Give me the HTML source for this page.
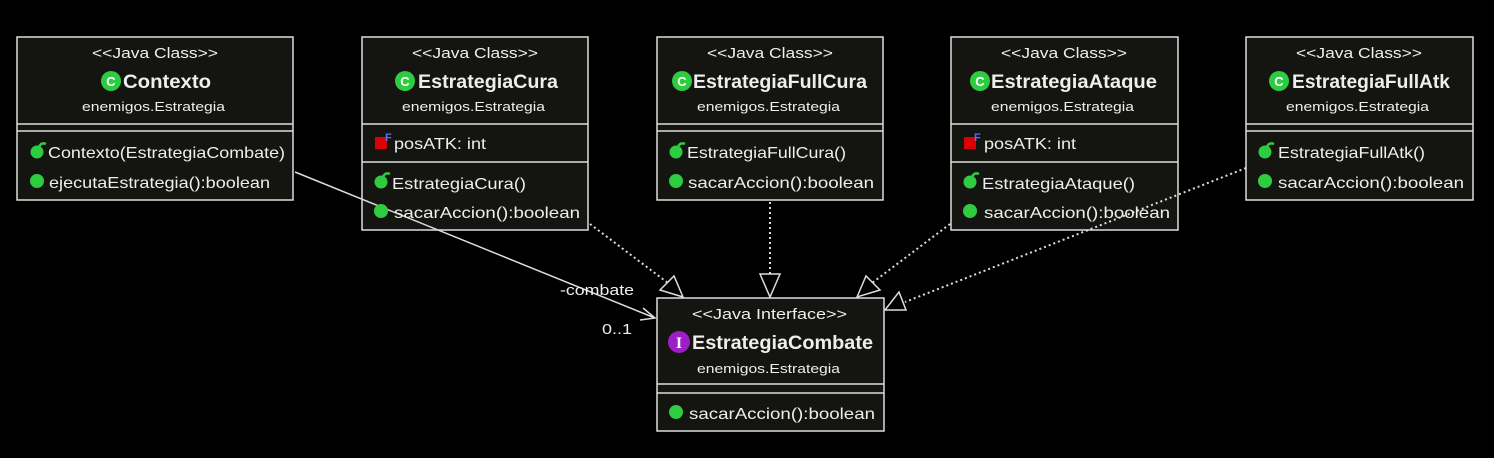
<!DOCTYPE html>
<html><head><meta charset="utf-8"><style>
body{margin:0;background:#000;width:1494px;height:453px;overflow:hidden;font-family:"Liberation Sans",sans-serif;}
</style></head><body>
<svg width="1494" height="453" xmlns="http://www.w3.org/2000/svg" font-family="Liberation Sans, sans-serif">
<defs>
<g id="ctor"><circle cx="0" cy="0" r="6.5" fill="#2ecc40"/><path d="M2,-5 Q4,-10 9,-8" stroke="#2ecc40" stroke-width="2.5" fill="none"/></g>
<g id="meth"><circle cx="0" cy="0" r="7" fill="#2ecc40"/></g>
<g id="fld"><rect x="-6" y="-6" width="12" height="12" fill="#d00"/><text x="4" y="-2" fill="#5b6cff" font-size="11" font-weight="bold">F</text></g>
</defs>
<rect width="1494" height="453" fill="#000"/>
<g stroke="#ddd" stroke-width="1.5" fill="#141410">
<rect x="17" y="37" width="276" height="163"/>
<line x1="17" y1="124" x2="293" y2="124"/><line x1="17" y1="131" x2="293" y2="131"/>
<rect x="362" y="37" width="226" height="193"/>
<line x1="362" y1="124" x2="588" y2="124"/><line x1="362" y1="162" x2="588" y2="162"/>
<rect x="657" y="37" width="226" height="163"/>
<line x1="657" y1="124" x2="883" y2="124"/><line x1="657" y1="131" x2="883" y2="131"/>
<rect x="951" y="37" width="227" height="193"/>
<line x1="951" y1="124" x2="1178" y2="124"/><line x1="951" y1="162" x2="1178" y2="162"/>
<rect x="1246" y="37" width="227" height="163"/>
<line x1="1246" y1="124" x2="1473" y2="124"/><line x1="1246" y1="131" x2="1473" y2="131"/>
<rect x="657" y="298" width="227" height="133"/>
<line x1="657" y1="384" x2="884" y2="384"/><line x1="657" y1="393" x2="884" y2="393"/>
</g>
<g stroke="#ddd" stroke-width="1.5" fill="none">
<line x1="295" y1="172" x2="655" y2="318"/>
<polyline points="643,308 655,318 640,320"/>
</g>
<g stroke="#ddd" stroke-width="2" stroke-dasharray="2,3" fill="none">
<line x1="590" y1="224" x2="668" y2="283"/>
<line x1="770" y1="202" x2="770" y2="274"/>
<line x1="950" y1="224" x2="872" y2="283"/>
<line x1="1246" y1="168" x2="905" y2="302"/>
</g>
<g stroke="#ddd" stroke-width="1.5" fill="#000">
<polygon points="683,297 660,290 674,276"/>
<polygon points="770,297 760,274 780,274"/>
<polygon points="857,297 866,276 880,290"/>
<polygon points="885,310 899,292 906,310"/>
</g>
<g fill="#eee" font-size="15" lengthAdjust="spacingAndGlyphs">
<text x="560" y="295" textLength="74" lengthAdjust="spacingAndGlyphs">-combate</text>
<text x="602" y="334" textLength="30" lengthAdjust="spacingAndGlyphs">0..1</text>
</g>
<g fill="#eee">
<g font-size="15">
<text x="92" y="58" textLength="126" lengthAdjust="spacingAndGlyphs">&lt;&lt;Java Class&gt;&gt;</text>
<text x="412" y="58" textLength="126" lengthAdjust="spacingAndGlyphs">&lt;&lt;Java Class&gt;&gt;</text>
<text x="707" y="58" textLength="126" lengthAdjust="spacingAndGlyphs">&lt;&lt;Java Class&gt;&gt;</text>
<text x="1001" y="58" textLength="126" lengthAdjust="spacingAndGlyphs">&lt;&lt;Java Class&gt;&gt;</text>
<text x="1296" y="58" textLength="126" lengthAdjust="spacingAndGlyphs">&lt;&lt;Java Class&gt;&gt;</text>
<text x="692" y="319" textLength="155" lengthAdjust="spacingAndGlyphs">&lt;&lt;Java Interface&gt;&gt;</text>
</g>
<g font-size="19" font-weight="bold">
<text x="123" y="88" textLength="88" lengthAdjust="spacingAndGlyphs">Contexto</text>
<text x="418" y="88" textLength="140" lengthAdjust="spacingAndGlyphs">EstrategiaCura</text>
<text x="693" y="88" textLength="174" lengthAdjust="spacingAndGlyphs">EstrategiaFullCura</text>
<text x="991" y="88" textLength="166" lengthAdjust="spacingAndGlyphs">EstrategiaAtaque</text>
<text x="1292" y="88" textLength="158" lengthAdjust="spacingAndGlyphs">EstrategiaFullAtk</text>
<text x="692" y="349" textLength="181" lengthAdjust="spacingAndGlyphs">EstrategiaCombate</text>
</g>
<g font-size="13">
<text x="82" y="111" textLength="143" lengthAdjust="spacingAndGlyphs">enemigos.Estrategia</text>
<text x="402" y="111" textLength="143" lengthAdjust="spacingAndGlyphs">enemigos.Estrategia</text>
<text x="697" y="111" textLength="143" lengthAdjust="spacingAndGlyphs">enemigos.Estrategia</text>
<text x="991" y="111" textLength="143" lengthAdjust="spacingAndGlyphs">enemigos.Estrategia</text>
<text x="1286" y="111" textLength="143" lengthAdjust="spacingAndGlyphs">enemigos.Estrategia</text>
<text x="697" y="373" textLength="143" lengthAdjust="spacingAndGlyphs">enemigos.Estrategia</text>
</g>
</g>
<g fill="#2ecc40">
<circle cx="111" cy="81" r="10"/><circle cx="405" cy="81" r="10"/><circle cx="682" cy="81" r="10"/>
<circle cx="980" cy="81" r="10"/><circle cx="1279" cy="81" r="10"/>
</g>
<circle cx="679" cy="342" r="11" fill="#9b1fc4"/>
<g fill="#fff" font-size="13" font-weight="bold" text-anchor="middle">
<text x="111" y="86">C</text><text x="405" y="86">C</text><text x="682" y="86">C</text><text x="980" y="86">C</text><text x="1279" y="86">C</text>
<text x="679" y="348" font-family="Liberation Serif, serif" font-size="16">I</text>
</g>
<use href="#ctor" x="37" y="152"/><use href="#meth" x="37" y="181"/>
<use href="#fld" x="381" y="143"/><use href="#ctor" x="381" y="182"/><use href="#meth" x="381" y="211"/>
<use href="#ctor" x="676" y="152"/><use href="#meth" x="676" y="181"/>
<use href="#fld" x="970" y="143"/><use href="#ctor" x="970" y="182"/><use href="#meth" x="970" y="211"/>
<use href="#ctor" x="1265" y="152"/><use href="#meth" x="1265" y="181"/>
<use href="#meth" x="676" y="412"/>
<g fill="#eee" font-size="16">
<text x="48" y="158" textLength="237" lengthAdjust="spacingAndGlyphs">Contexto(EstrategiaCombate)</text>
<text x="49" y="188" textLength="221" lengthAdjust="spacingAndGlyphs">ejecutaEstrategia():boolean</text>
<text x="394" y="149" textLength="92" lengthAdjust="spacingAndGlyphs">posATK: int</text>
<text x="392" y="189" textLength="134" lengthAdjust="spacingAndGlyphs">EstrategiaCura()</text>
<text x="394" y="218" textLength="186" lengthAdjust="spacingAndGlyphs">sacarAccion():boolean</text>
<text x="687" y="158" textLength="159" lengthAdjust="spacingAndGlyphs">EstrategiaFullCura()</text>
<text x="688" y="188" textLength="186" lengthAdjust="spacingAndGlyphs">sacarAccion():boolean</text>
<text x="984" y="149" textLength="92" lengthAdjust="spacingAndGlyphs">posATK: int</text>
<text x="982" y="189" textLength="153" lengthAdjust="spacingAndGlyphs">EstrategiaAtaque()</text>
<text x="984" y="218" textLength="186" lengthAdjust="spacingAndGlyphs">sacarAccion():boolean</text>
<text x="1278" y="158" textLength="147" lengthAdjust="spacingAndGlyphs">EstrategiaFullAtk()</text>
<text x="1278" y="188" textLength="186" lengthAdjust="spacingAndGlyphs">sacarAccion():boolean</text>
<text x="689" y="419" textLength="186" lengthAdjust="spacingAndGlyphs">sacarAccion():boolean</text>
</g>
</svg>
</body></html>
